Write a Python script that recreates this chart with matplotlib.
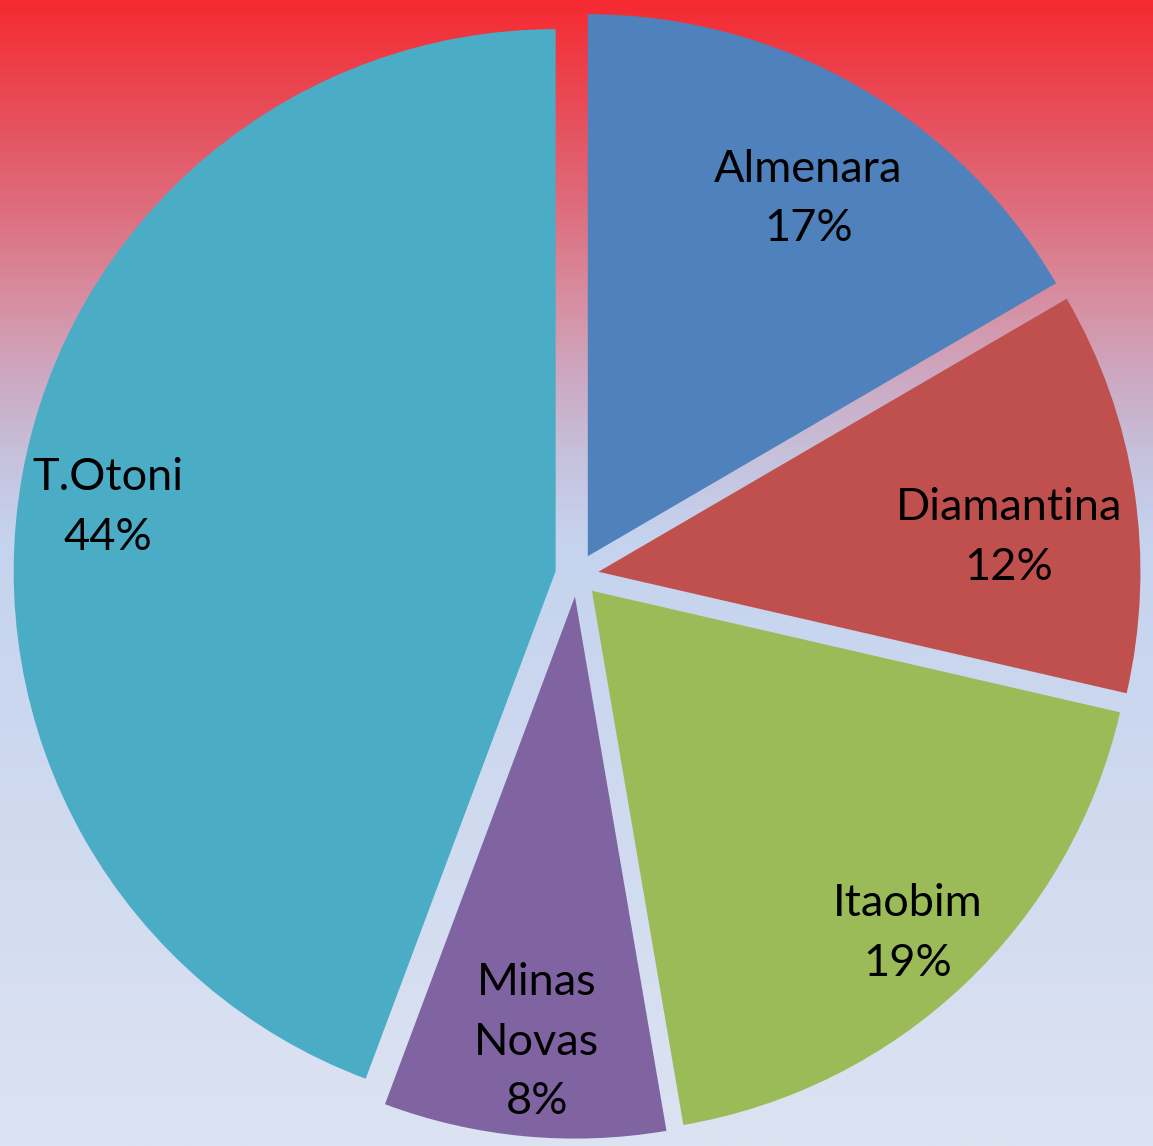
import numpy as np
import matplotlib
matplotlib.use("Agg")
import matplotlib.pyplot as plt
from matplotlib.colors import LinearSegmentedColormap

# data
cities = ["Almenara", "Diamantina", "Itaobim", "Minas\nNovas", "T.Otoni"]
shares = [16.6, 12.0, 18.7, 8.4, 44.3]
colors = ["#4F81BD", "#C0504D", "#9BBB59", "#8064A2", "#4BACC6"]
# label placement: radial distance and angle nudge (deg) from the wedge middle
label_dist = [0.775, 0.76, 0.86, 0.825, 0.835]
label_turn = [-1.8, -3.9, -0.7, 0.5, 2.2]

W, H = 1153, 1146
cx, cy, R = 577, 575, 542  # pie centre and radius in pixels

fig = plt.figure(figsize=(W / 100, H / 100), dpi=100)

# background gradient, red at the top fading to pale blue
bg = fig.add_axes([0, 0, 1, 1])
bg_cmap = LinearSegmentedColormap.from_list("bg", [
    (0.0, "#F52A31"),
    (0.09, "#E84B57"),
    (0.18, "#DE6D7D"),
    (0.26, "#D78EA1"),
    (0.33, "#CDA9C2"),
    (0.40, "#C6C2DD"),
    (0.47, "#C5D3EE"),
    (1.0, "#DCE3F2"),
])
grad = np.linspace(0, 1, 512).reshape(-1, 1)
bg.imshow(grad, aspect="auto", cmap=bg_cmap, extent=[0, 1, 0, 1], origin="upper")
bg.axis("off")

ax = fig.add_axes([0, 0, 1, 1])
ax.patch.set_alpha(0)
wedges, _ = ax.pie(shares, colors=colors, startangle=90, counterclock=False,
                   explode=[0.04] * len(shares), radius=1,
                   wedgeprops=dict(linewidth=0))

total = sum(shares)
for w, name, v, d, t in zip(wedges, cities, shares, label_dist, label_turn):
    mid = np.deg2rad((w.theta1 + w.theta2) / 2 + t)
    x = w.center[0] + d * np.cos(mid)
    y = w.center[1] + d * np.sin(mid)
    ax.text(x, y, f"{name}\n{round(100 * v / total)}%", ha="center", va="center",
            fontsize=32.5, family="Lato", linespacing=1.56, color="black")

ax.set_xlim(-cx / R, (W - cx) / R)
ax.set_ylim(-(H - cy) / R, cy / R)
ax.set_aspect("auto")
ax.axis("off")

fig.savefig("out.png", dpi=100)
